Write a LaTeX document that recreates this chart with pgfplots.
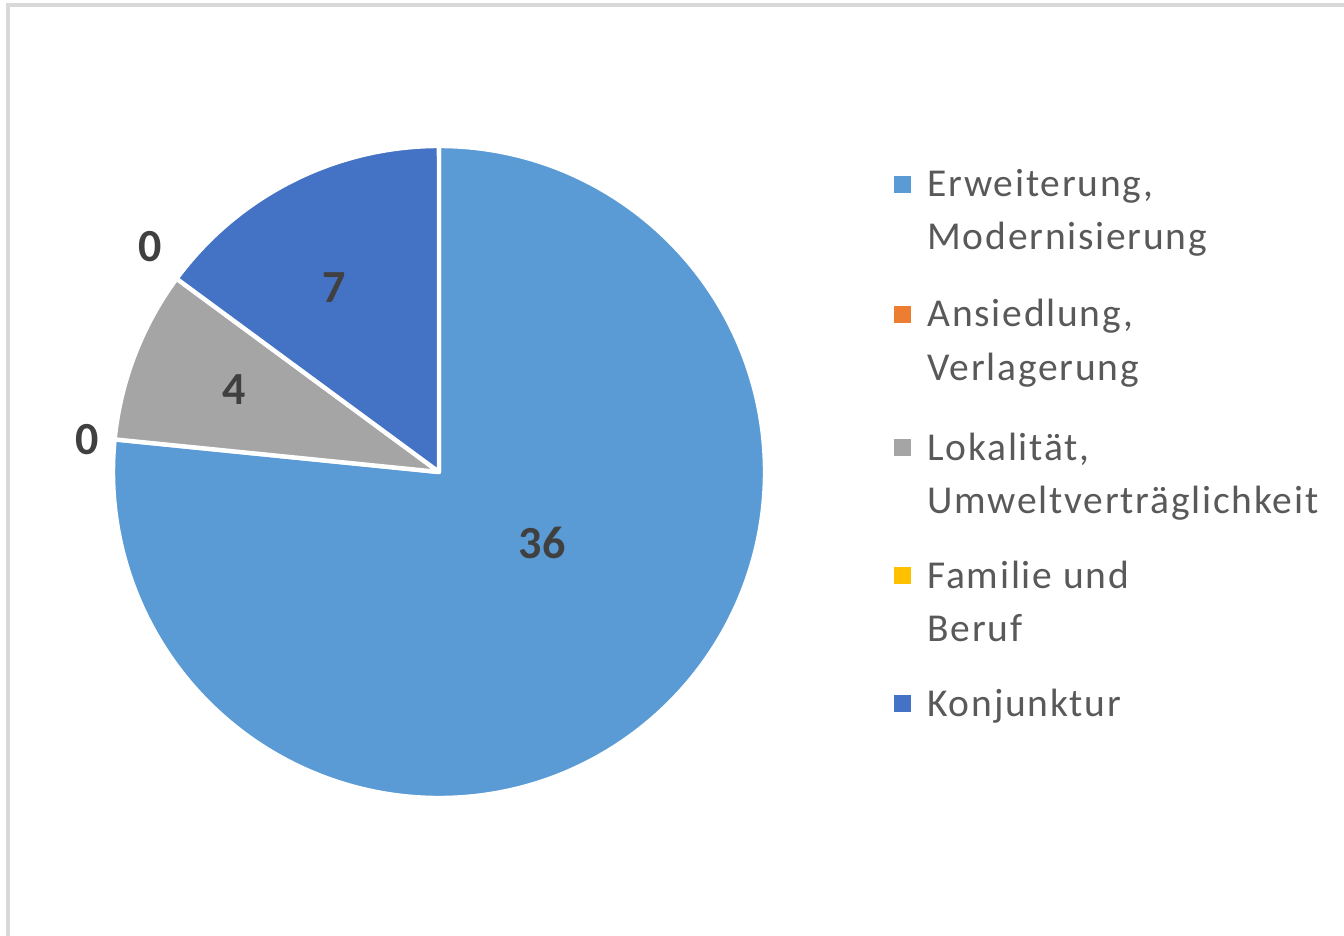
\documentclass[border=0pt]{standalone}
\usepackage{pgfplots}
\pgfplotsset{compat=1.18}
\usepackage{pgfplotstable}
\usepackage{fontspec}
\setmainfont{Carlito}
\newfontfamily\legfont[LetterSpace=4.5]{Carlito}
\newfontfamily\lblfont[LetterSpace=3]{Carlito}
\definecolor{c1}{HTML}{5B9BD5}
\definecolor{c2}{HTML}{ED7D31}
\definecolor{c3}{HTML}{A5A5A5}
\definecolor{c4}{HTML}{FFC000}
\definecolor{c5}{HTML}{4472C4}
\definecolor{lbl}{HTML}{404040}
\definecolor{leg}{HTML}{595959}
\definecolor{framecol}{HTML}{D9D9D9}

% value, label position (in pie radii), colour
\pgfplotstableread{
val lx ly col
36 0.316 -0.218 c1
0 -1.080 0.098 c2
4 -0.629 0.252 c3
0 -0.887 0.690 c4
7 -0.322 0.567 c5
}\piedata

\begin{document}
\begin{tikzpicture}
\useasboundingbox (0,0) rectangle (672pt,-468pt);
\clip (0,0) rectangle (672pt,-468pt);
\fill[white] (0,0) rectangle (672pt,-468pt);
\draw[framecol, line width=1.75pt] (4pt,-2.5pt) rectangle (700pt,-500pt);
\begin{axis}[
  at={(219.5pt,-236pt)}, anchor=center,
  x=163pt, y=163pt,
  xmin=-1.4, xmax=1.4, ymin=-1.4, ymax=1.4,
  hide axis, clip=false
]
\pgfmathsetmacro\total{0}
\pgfplotsforeachungrouped \i in {0,...,4}{%
  \pgfplotstablegetelem{\i}{val}\of\piedata
  \pgfmathsetmacro\total{\total+\pgfplotsretval}%
}
\def\startang{90}
\pgfplotsforeachungrouped \i in {0,...,4}{%
  \pgfplotstablegetelem{\i}{val}\of\piedata \let\slv\pgfplotsretval
  \pgfplotstablegetelem{\i}{col}\of\piedata \let\slc\pgfplotsretval
  \pgfplotstablegetelem{\i}{lx}\of\piedata \let\slx\pgfplotsretval
  \pgfplotstablegetelem{\i}{ly}\of\piedata \let\sly\pgfplotsretval
  \pgfmathsetmacro\endang{\startang-\slv/\total*360}%
  \ifdim\slv pt>0pt
    \edef\tmp{\noexpand\fill[fill=\slc, draw=white, line width=2.2pt, line join=round] (axis cs:0,0) -- ++(\startang:163pt) arc[start angle=\startang, end angle=\endang, radius=163pt] -- cycle;}%
    \tmp
  \fi
  \edef\tmp{\noexpand\node[text=lbl, inner sep=0pt, font=\noexpand\lblfont\noexpand\fontsize{23pt}{27pt}\noexpand\selectfont\noexpand\bfseries] at (axis cs:\slx,\sly) {\slv};}%
  \tmp
  \global\let\startang\endang
}
\end{axis}
% legend
\tikzset{legtxt/.style={anchor=base west, inner sep=0pt, text=leg, font=\legfont\fontsize{19.75pt}{24pt}\selectfont}}
\foreach \b/\c/\la/\lb in {98.5/c1/{Erweiterung,}/Modernisierung, 163.5/c2/{Ansiedlung,}/Verlagerung, 230/c3/{Lokalität,}/Umweltverträglichkeit, 294/c4/{Familie und}/Beruf}{
  \fill[\c] (447pt,-\b pt+2pt) rectangle ++(8.5pt,8.5pt);
  \node[legtxt] at (463.5pt,-\b pt) {\la};
  \node[legtxt] at (463.5pt,-\b pt-26.5pt) {\lb};
}
\fill[c5] (447pt,-358pt+2pt) rectangle ++(8.5pt,8.5pt);
\node[legtxt] at (463.5pt,-358pt) {Konjunktur};
\end{tikzpicture}
\end{document}
